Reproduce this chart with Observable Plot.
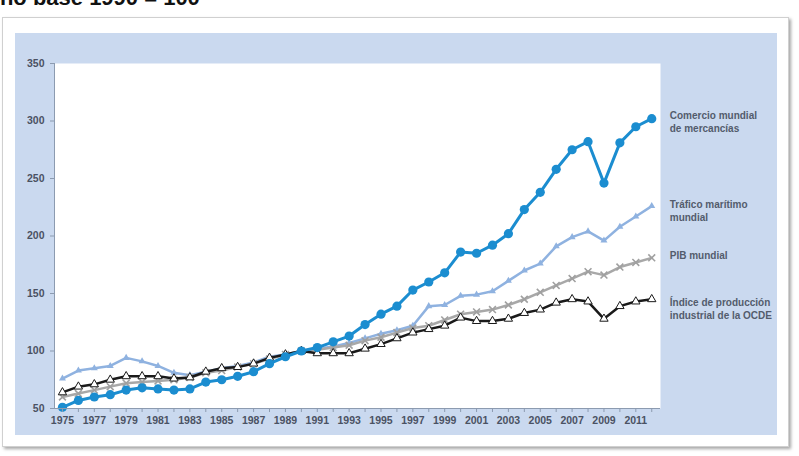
<!DOCTYPE html>
<html>
<head>
<meta charset="utf-8">
<script src="https://cdn.jsdelivr.net/npm/d3@7"></script>
<script src="https://cdn.jsdelivr.net/npm/@observablehq/plot@0.6"></script>
<style>
  html, body { margin: 0; padding: 0; }
  body { width: 799px; height: 456px; overflow: hidden; background: #fff; position: relative;
         font-family: "Liberation Sans", Arial, sans-serif; }
  #title { position: absolute; left: -16px; top: -13px; font: bold 22px/22px "Liberation Sans", Arial, sans-serif;
           color: #111; white-space: nowrap; }
  #card { position: absolute; left: 2px; top: 17px; width: 785px; height: 428px; background: #fff;
          border: 1px solid #d0d0d0; box-shadow: 2px 2px 3px rgba(0,0,0,0.35); }
  #panel { position: absolute; left: 15px; top: 33px; width: 762px; height: 402px; background: #cad9ef; }
  #chart { position: absolute; left: 0; top: 0; }
</style>
</head>
<body>
<div id="title">Año base 1990 = 100</div>
<div id="card"></div>
<div id="panel"></div>
<div id="chart"></div>
<script>
const years = [1975,1976,1977,1978,1979,1980,1981,1982,1983,1984,1985,1986,1987,1988,1989,1990,1991,1992,1993,1994,1995,1996,1997,1998,1999,2000,2001,2002,2003,2004,2005,2006,2007,2008,2009,2010,2011,2012];
const comercio = [51,57,60,62,66,68,67,66,67,73,75,78,82,89,95,100,103,108,113,123,132,139,153,160,168,186,185,192,202,223,238,258,275,282,246,281,295,302];
const trafico = [76,83,85,87,94,91,87,81,79,82,85,87,90,95,97,100,102,104,107,111,115,118,122,139,140,148,149,152,161,170,176,191,199,204,196,208,217,226];
const pib = [60,63,66,69,72,73,74,75,77,81,83,86,89,93,97,100,101,103,105,109,112,116,120,122,127,132,134,136,140,145,151,157,163,169,166,173,177,181];
const ocde = [64,69,71,75,78,78,78,76,77,82,85,86,89,94,97,100,98,98,98,102,106,111,116,119,122,129,126,126,128,133,136,142,145,143,128,139,143,145];
const yTicks = [50,100,150,200,250,300,350];
const labels = {
  comercio: "Comercio mundial\nde mercancías",
  trafico: "Tráfico marítimo\nmundial",
  pib: "PIB mundial",
  ocde: "Índice de producción\nindustrial de la OCDE"
};

const toRows = (vals) => years.map((year, i) => ({year, value: vals[i]}));
const rC = toRows(comercio), rT = toRows(trafico), rP = toRows(pib), rO = toRows(ocde);
const last = (rows) => [rows[rows.length - 1]];

const axisColor = "#8c9bb0";
const textColor = "#4a5263";
const labelColor = "#535c6c";
const font = "'Liberation Sans', Arial, sans-serif";

const chart = Plot.plot({
  width: 799,
  height: 456,
  marginLeft: 54,
  marginRight: 139,
  marginTop: 63,
  marginBottom: 48,
  style: { background: "transparent", fontFamily: font, color: textColor },
  x: { domain: [1974.5, 2012.55] },
  y: { domain: [50, 350] },
  marks: [
    Plot.frame({ fill: "white", stroke: "none" }),
    // Tráfico marítimo
    Plot.line(rT, { x: "year", y: "value", stroke: "#8fb2e0", strokeWidth: 2.5 }),
    Plot.dot(rT, { x: "year", y: "value", symbol: "triangle", fill: "#8fb2e0", r: 2.6 }),
    // PIB mundial
    Plot.line(rP, { x: "year", y: "value", stroke: "#a8a8a8", strokeWidth: 2.5 }),
    Plot.dot(rP, { x: "year", y: "value", symbol: "times", stroke: "#a0a0a0", strokeWidth: 1.6, r: 3.2 }),
    // OCDE
    Plot.line(rO, { x: "year", y: "value", stroke: "#1a1a1a", strokeWidth: 2.5 }),
    Plot.dot(rO, { x: "year", y: "value", symbol: "triangle", fill: "white", stroke: "#1a1a1a", strokeWidth: 1, r: 3.1 }),
    // Comercio mundial
    Plot.line(rC, { x: "year", y: "value", stroke: "#1b8dd0", strokeWidth: 3 }),
    Plot.dot(rC, { x: "year", y: "value", symbol: "circle", fill: "#1b8dd0", r: 4.6 }),
    // axes
    Plot.ruleX([1974.5], { stroke: axisColor, strokeWidth: 1 }),
    Plot.ruleY([50], { stroke: axisColor, strokeWidth: 1 }),
    Plot.axisY({ ticks: yTicks, tickSize: 4, tickPadding: 6, stroke: axisColor, fill: textColor,
                 fontSize: 10.5, fontWeight: "bold", tickFormat: d => String(d), label: null }),
    Plot.axisX({ ticks: years, tickSize: 4, tickPadding: 4, stroke: axisColor, fill: textColor,
                 fontSize: 10.5, fontWeight: "bold", tickFormat: d => (d % 2 ? String(d) : ""), label: null }),
    // series labels
    Plot.text(last(rC), { x: "year", y: "value", text: () => labels.comercio, dx: 18, dy: 3,
      textAnchor: "start", lineAnchor: "middle", lineHeight: 1.3, fontSize: 10, fontWeight: "bold", fill: labelColor }),
    Plot.text(last(rT), { x: "year", y: "value", text: () => labels.trafico, dx: 18, dy: 4,
      textAnchor: "start", lineAnchor: "middle", lineHeight: 1.3, fontSize: 10, fontWeight: "bold", fill: labelColor }),
    Plot.text(last(rP), { x: "year", y: "value", text: () => labels.pib, dx: 18, dy: -3,
      textAnchor: "start", lineAnchor: "middle", lineHeight: 1.3, fontSize: 10, fontWeight: "bold", fill: labelColor }),
    Plot.text(last(rO), { x: "year", y: "value", text: () => labels.ocde, dx: 18, dy: 9,
      textAnchor: "start", lineAnchor: "middle", lineHeight: 1.3, fontSize: 10, fontWeight: "bold", fill: labelColor })
  ]
});
document.getElementById("chart").appendChild(chart);
</script>
</body>
</html>
